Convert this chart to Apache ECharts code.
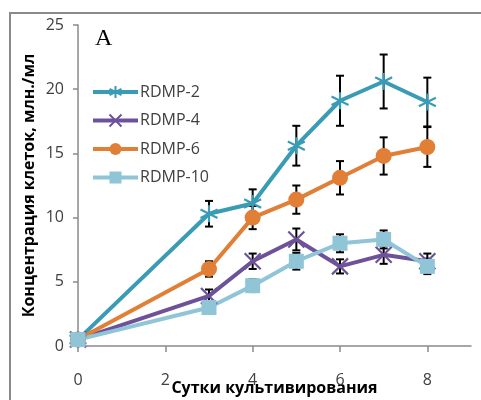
<!DOCTYPE html>
<html>
<head>
<meta charset="utf-8">
<script src="https://cdn.jsdelivr.net/npm/echarts@6/dist/echarts.min.js"></script>
<style>
  html, body { margin: 0; padding: 0; background: #fff; }
  #main { width: 481px; height: 400px; }
</style>
</head>
<body>
<div id="main"></div>
<script>
// days of cultivation
const days = [0, 3, 4, 5, 6, 7, 8];
const xTicks = [0, 2, 4, 6, 8];

// cell concentration, mln/ml, and error (+/-)
const rdmp2 = [0.5, 10.3, 11.1, 15.6, 19.1, 20.6, 19.0];
const err2 = [0, 1.0, 1.1, 1.55, 1.95, 2.1, 1.9];
const rdmp4 = [0.5, 3.9, 6.6, 8.3, 6.2, 7.1, 6.6];
const err4 = [0, 0.5, 0.6, 0.85, 0.55, 0.7, 0.6];
const rdmp6 = [0.5, 6.0, 10.0, 11.4, 13.1, 14.8, 15.5];
const err6 = [0, 0.6, 0.9, 1.1, 1.3, 1.45, 1.55];
const rdmp10 = [0.5, 3.0, 4.7, 6.6, 8.0, 8.3, 6.2];
const err10 = [0, 0.4, 0.5, 0.65, 0.7, 0.7, 0.6];

const names = ['RDMP-2', 'RDMP-4', 'RDMP-6', 'RDMP-10'];
const colors = ['#3a9cb4', '#6d5299', '#e07f35', '#8fc5d6'];

const asterisk = 'path://M8,0L8,16M1,4L15,12M1,12L15,4';
const cross = 'path://M1,1L15,15M1,15L15,1';

const pts = (vals) => days.map((d, i) => [d, vals[i]]);
const errPts = (vals, errs) => days.map((d, i) => [d, vals[i], errs[i]]);

function errorSeries(vals, errs) {
  return {
    type: 'custom',
    z: 1,
    silent: true,
    data: errPts(vals, errs),
    encode: { x: 0, y: 1 },
    renderItem: function (params, api) {
      const x = api.value(0), y = api.value(1), e = api.value(2);
      if (!e) return null;
      const top = api.coord([x, y + e]);
      const bot = api.coord([x, y - e]);
      const w = 4;
      const st = { stroke: '#000', lineWidth: 2 };
      return {
        type: 'group',
        children: [
          { type: 'line', shape: { x1: top[0], y1: top[1], x2: bot[0], y2: bot[1] }, style: st },
          { type: 'line', shape: { x1: top[0] - w, y1: top[1], x2: top[0] + w, y2: top[1] }, style: st },
          { type: 'line', shape: { x1: bot[0] - w, y1: bot[1], x2: bot[0] + w, y2: bot[1] }, style: st }
        ]
      };
    }
  };
}

function lineSeries(idx, vals, symbol, size, stroked) {
  return {
    name: names[idx],
    type: 'line',
    z: 2,
    data: pts(vals),
    symbol: symbol,
    symbolSize: size,
    showAllSymbol: true,
    lineStyle: { color: colors[idx], width: 4 },
    itemStyle: stroked
      ? { color: colors[idx], borderColor: colors[idx], borderWidth: 2.2 }
      : { color: colors[idx] },
    emphasis: { disabled: true }
  };
}

const chart = echarts.init(document.getElementById('main'));
chart.setOption({
  animation: false,
  textStyle: { fontFamily: 'Open Sans, Noto Sans, sans-serif' },
  graphic: [
    {
      type: 'rect',
      shape: { x: 10, y: 13, width: 520, height: 420 },
      style: { fill: 'none', stroke: '#8a8a8a', lineWidth: 2 },
      z: 0
    },
    {
      type: 'text',
      left: 95,
      top: 27,
      style: { text: 'A', font: '24px "Liberation Serif", serif', fill: '#000' }
    }
  ],
  legend: {
    left: 86,
    top: 79,
    orient: 'vertical',
    itemWidth: 45,
    itemHeight: 15,
    itemGap: 12.5,
    lineStyle: { width: 4 },
    textStyle: { fontSize: 16, color: '#404040', padding: [0, 0, 0, -3] },
    data: names
  },
  grid: { left: 78, right: 10, top: 25, bottom: 54, outerBoundsMode: 'none' },
  xAxis: {
    type: 'value',
    min: 0,
    max: 9,
    interval: 2,
    name: 'Сутки культивирования',
    nameLocation: 'middle',
    nameGap: 34,
    nameMoveOverlap: false,
    nameTextStyle: { fontSize: 16, fontWeight: 'bold', color: '#000' },
    axisLine: { lineStyle: { color: '#8a8a8a', width: 1.5 } },
    axisTick: { show: true, length: 6, customValues: xTicks, lineStyle: { color: '#8a8a8a', width: 1.5 } },
    axisLabel: { customValues: xTicks, fontSize: 16, color: '#404040', margin: 26 },
    splitLine: { show: false }
  },
  yAxis: {
    type: 'value',
    min: 0,
    max: 25,
    interval: 5,
    name: 'Концентрация клеток, млн./мл',
    nameLocation: 'middle',
    nameGap: 41,
    nameMoveOverlap: false,
    nameTextStyle: { fontSize: 16, fontWeight: 'bold', color: '#000' },
    axisLine: { show: true, lineStyle: { color: '#8a8a8a', width: 1.5 } },
    axisTick: { show: true, length: 5, lineStyle: { color: '#8a8a8a', width: 1.5 } },
    axisLabel: { fontSize: 16, color: '#404040', margin: 14 },
    splitLine: { show: false }
  },
  series: [
    errorSeries(rdmp2, err2),
    errorSeries(rdmp4, err4),
    errorSeries(rdmp6, err6),
    errorSeries(rdmp10, err10),
    lineSeries(0, rdmp2, asterisk, 17, true),
    lineSeries(1, rdmp4, cross, 16, true),
    lineSeries(2, rdmp6, 'circle', 16, false),
    lineSeries(3, rdmp10, 'rect', 15, false)
  ]
});
</script>
</body>
</html>
